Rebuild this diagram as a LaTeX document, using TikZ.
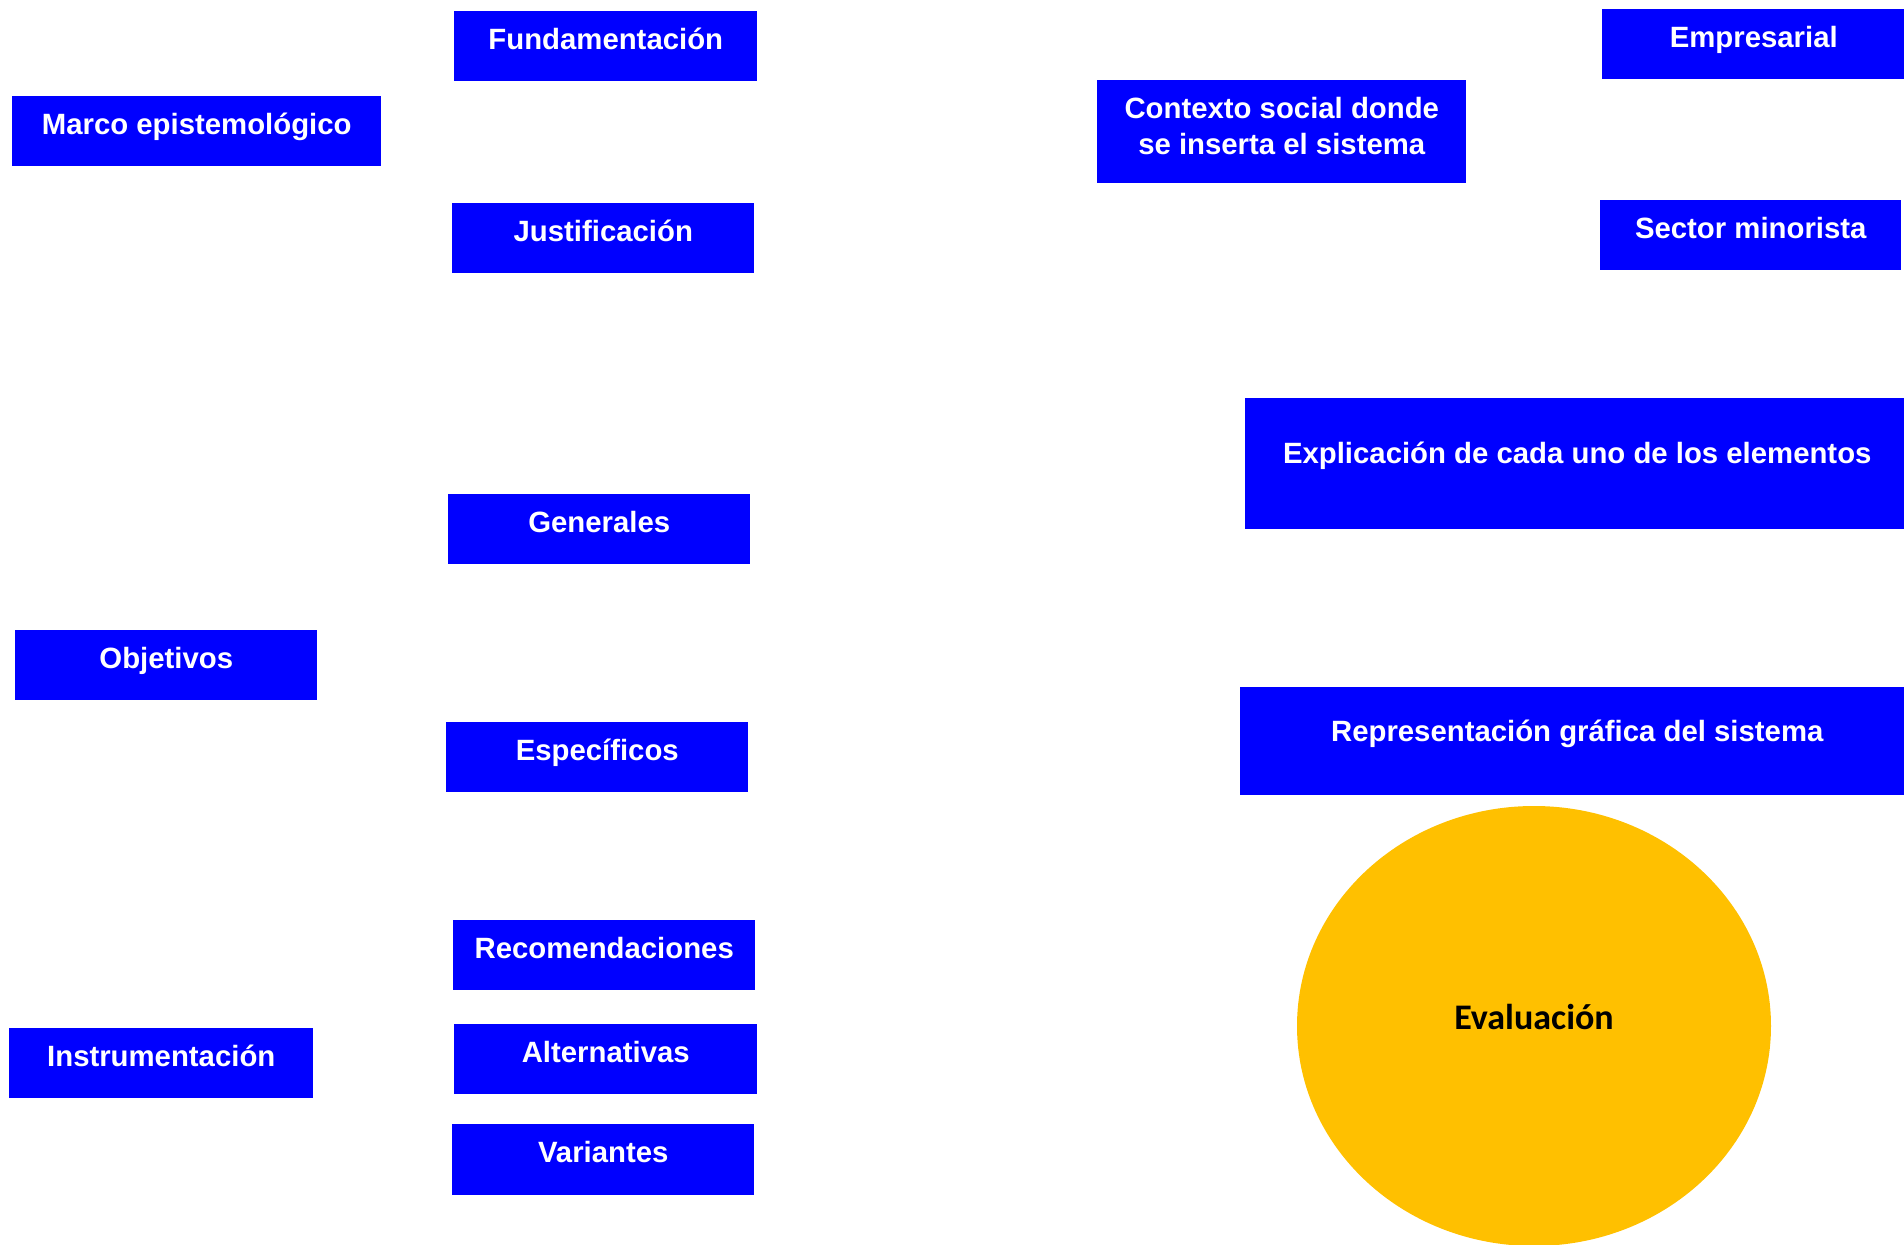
\documentclass[tikz,border=0pt]{standalone}
\usepackage{fontspec}
\setmainfont{Liberation Sans}
\newfontfamily\calibfont{Carlito}
\usetikzlibrary{shapes.geometric}
\definecolor{boxblue}{HTML}{0000FF}
\definecolor{evalorange}{HTML}{FFC000}
\tikzset{
  bx/.style={fill=boxblue, text=white, inner sep=0pt, anchor=north west, align=center,
    font=\fontsize{22}{27}\selectfont\bfseries, text height=28.5pt, text depth=24pt},
  w303/.style={minimum width=227.25pt},
  w302/.style={minimum width=226.5pt},
}
\begin{document}
\begin{tikzpicture}[x=0.75pt,y=-0.75pt]
\useasboundingbox (0,0) rectangle (1904,1245);
\clip (0,0) rectangle (1904,1245);
% left column
\node[bx,minimum width=276.75pt] (marco) at (12,96) {Marco epistemológico};
\node[bx,w302] (obj) at (15,630) {Objetivos};
\node[bx,minimum width=228pt] (instr) at (9,1028) {Instrumentación};
% middle column
\node[bx,w303] (fund) at (454,11) {Fundamentación};
\node[bx,w302] (just) at (452,203) {Justificación};
\node[bx,w302] (gen) at (448,494) {Generales};
\node[bx,w302] (esp) at (446,722) {Específicos};
\node[bx,w302] (rec) at (453,920) {Recomendaciones};
\node[bx,w303] (alt) at (454,1024) {Alternativas};
\node[bx,w302,text depth=24.75pt] (var) at (452,1124) {Variantes};
% right side
\node[bx,minimum width=276.75pt,text height=55.5pt,text depth=21.75pt] (ctx) at (1097,80) {Contexto social donde\\se inserta el sistema};
\node[bx,w303] (emp) at (1602,9) {Empresarial};
\node[bx,minimum width=225.75pt] (sec) at (1600,200) {Sector minorista};
\node[bx,minimum width=498pt,text height=48.75pt,text depth=49.5pt] (expl) at (1245,398) {Explicación de cada uno de los elementos};
\node[bx,minimum width=505.5pt,text height=40.5pt,text depth=40.5pt] (repr) at (1240,687) {Representación gráfica del sistema};
\node[ellipse, fill=evalorange, inner sep=0pt, minimum width=355.5pt, minimum height=330pt,
  font=\calibfont\fontsize{27}{32}\selectfont\bfseries, text=black,
  text height=20pt, text depth=15.5pt] (eval) at (1534,1026) {Evaluación};
\end{tikzpicture}
\end{document}
